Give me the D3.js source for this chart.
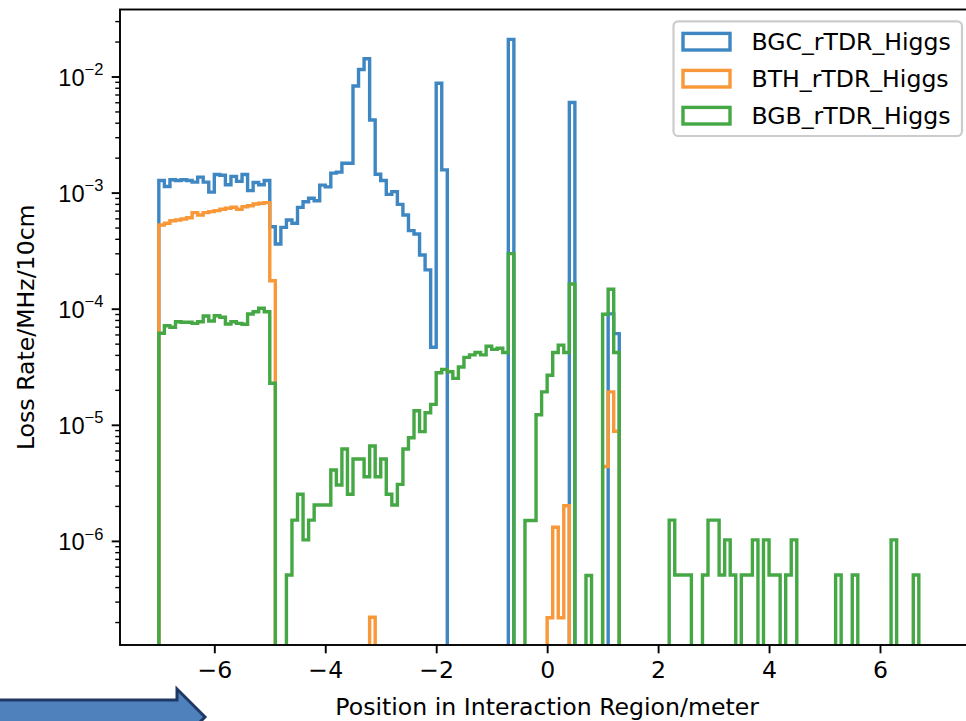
<!DOCTYPE html>
<html><head><meta charset="utf-8">
<script src="https://cdn.jsdelivr.net/npm/d3@7"></script>
<style>
html,body{margin:0;padding:0;background:#fff;overflow:hidden;}
svg{display:block;font-family:"DejaVu Sans",sans-serif;}
</style></head><body>
<svg id="chart" width="966" height="721"></svg>
<script>
// ---- data (10 cm bins from -7 m to 7 m) ----
const binStart = -7, binWidth = 0.1, binCount = 140;
const seriesNames = ["BGC_rTDR_Higgs", "BTH_rTDR_Higgs", "BGB_rTDR_Higgs"];
const xTickValues = [-6, -4, -2, 0, 2, 4, 6];
const yTickExponents = [-6, -5, -4, -3, -2];
const xLabel = "Position in Interaction Region/meter";
const yLabel = "Loss Rate/MHz/10cm";

const bgc = [
  1.27e-3,1.13e-3,1.29e-3,1.27e-3,1.29e-3,1.27e-3,1.23e-3,1.36e-3,1.23e-3,1.01e-3,
  1.43e-3,1.41e-3,1.17e-3,1.38e-3,1.25e-3,1.43e-3,1.04e-3,1.22e-3,1.17e-3,1.27e-3,
  5.08e-4,3.61e-4,5.02e-4,5.81e-4,5.44e-4,7.46e-4,8.35e-4,8.93e-4,8.51e-4,1.16e-3,
  1.12e-3,1.47e-3,1.50e-3,1.79e-3,1.79e-3,8.28e-3,1.15e-2,1.42e-2,4.22e-3,1.44e-3,
  1.27e-3,9.66e-4,1.02e-3,7.92e-4,6.41e-4,4.70e-4,4.40e-4,2.90e-4,2.16e-4,4.65e-5,
  8.74e-3,1.57e-3,0,0,0,0,0,0,0,0,
  0,0,0,2.09e-2,0,0,0,0,0,0,
  0,0,0,0,5.98e-3,0,0,0,0,0,
  0,9.02e-5,6.10e-5,0,0,0,0,0,0,0,
  0,0,0,0,0,0,0,0,0,0,
  0,0,0,0,0,0,0,0,0,0,
  0,0,0,0,0,0,0,0,0,0,
  0,0,0,0,0,0,0,0,0,0,
  0,0,0,0,0,0,0,0,0,0
];
const bth = [
  5.26e-4,5.44e-4,5.73e-4,5.81e-4,5.93e-4,6.08e-4,6.72e-4,6.41e-4,6.72e-4,6.86e-4,
  6.99e-4,7.18e-4,7.33e-4,7.47e-4,7.18e-4,7.56e-4,7.71e-4,7.97e-4,8.09e-4,8.19e-4,
  1.74e-4,0,0,0,0,0,0,0,0,0,
  0,0,0,0,0,0,0,0,2.2e-7,0,
  0,0,0,0,0,0,0,0,0,0,
  0,0,0,0,0,0,0,0,0,0,
  0,0,0,0,0,0,0,0,0,0,
  2.18e-7,1.31e-6,2.18e-7,2.01e-6,0,0,0,0,0,0,
  4.38e-6,1.92e-5,8.81e-6,0,0,0,0,0,0,0,
  0,0,0,0,0,0,0,0,0,0,
  0,0,0,0,0,0,0,0,0,0,
  0,0,0,0,0,0,0,0,0,0,
  0,0,0,0,0,0,0,0,0,0,
  0,0,0,0,0,0,0,0,0,0
];
const bgb = [
  6.14e-5,7.14e-5,6.92e-5,7.73e-5,7.64e-5,7.64e-5,7.48e-5,7.73e-5,8.65e-5,7.83e-5,
  8.70e-5,8.45e-5,7.38e-5,7.73e-5,7.48e-5,7.35e-5,9.0e-5,9.42e-5,1.01e-4,9.42e-5,
  2.28e-5,0,0,5.08e-7,1.51e-6,2.52e-6,1.02e-6,1.51e-6,2.04e-6,2.04e-6,
  2.04e-6,4.08e-6,3.03e-6,6.19e-6,2.52e-6,5.07e-6,5.07e-6,3.57e-6,6.56e-6,3.57e-6,
  5.07e-6,2.52e-6,2.04e-6,3.07e-6,6.19e-6,7.74e-6,1.32e-5,8.73e-6,1.27e-5,1.50e-5,
  2.81e-5,3.00e-5,2.86e-5,2.51e-5,3.15e-5,3.81e-5,4.00e-5,4.20e-5,4.00e-5,4.75e-5,
  4.46e-5,4.56e-5,4.20e-5,2.98e-4,0,0,1.50e-6,1.50e-6,1.22e-5,1.92e-5,
  2.67e-5,4.20e-5,4.86e-5,4.20e-5,1.63e-4,0,0,5.04e-7,0,0,
  8.95e-5,1.47e-4,4.20e-5,0,0,0,0,0,0,0,
  0,0,1.51e-6,5.08e-7,5.08e-7,5.08e-7,0,0,5.08e-7,1.51e-6,
  1.51e-6,5.08e-7,1.02e-6,5.08e-7,0,5.08e-7,5.08e-7,1.02e-6,0,1.02e-6,
  5.08e-7,5.08e-7,0,5.08e-7,1.02e-6,0,0,0,0,0,
  0,0,5.08e-7,0,0,5.08e-7,0,0,0,0,
  0,0,1.02e-6,0,0,0,5.08e-7,0,0,0
];
const seriesValues = [bgc, bth, bgb];
const seriesColors = ["#3f87c2", "#f89838", "#45a845"];

// ---- layout ----
const svg = d3.select("#chart");
const plot = {left: 120, right: 974.3, top: 9.5, bottom: 645};
const FS = 23.6;
const majorLen = 8.3, minorLen = 4.75, pad = 8.3;

const x = d3.scaleLinear().domain([-7.7, 7.7]).range([plot.left, plot.right]);
const y = d3.scaleLog().domain([1e-6, 1e-2]).range([540.9, 76.5]);

const edges = d3.range(binCount + 1).map(i => binStart + i * binWidth);

svg.append("defs").append("clipPath").attr("id", "clip")
  .append("rect").attr("x", plot.left).attr("y", plot.top)
  .attr("width", plot.right - plot.left).attr("height", plot.bottom - plot.top);

const yZero = plot.bottom + 60;
function stepPoints(vals) {
  const pts = [[x(edges[0]), yZero]];
  vals.forEach((v, i) => {
    const yy = v > 0 ? y(v) : yZero;
    pts.push([x(edges[i]), yy]);
    pts.push([x(edges[i + 1]), yy]);
  });
  pts.push([x(edges[binCount]), yZero]);
  return pts;
}
const lineGen = d3.line();
const gData = svg.append("g").attr("clip-path", "url(#clip)");
seriesValues.forEach((vals, k) => {
  gData.append("path").attr("d", lineGen(stepPoints(vals)))
    .attr("fill", "none").attr("stroke", seriesColors[k])
    .attr("stroke-width", 3.4).attr("stroke-linejoin", "miter");
});

// ---- axes ----
const minus = d => (d < 0 ? "\u2212" + Math.abs(d) : String(d));
const gx = svg.append("g").attr("transform", `translate(0,${plot.bottom})`)
  .call(d3.axisBottom(x).tickValues(xTickValues).tickSize(majorLen).tickPadding(pad).tickFormat(minus));
gx.select(".domain").remove();
gx.selectAll(".tick line").attr("stroke", "#000").attr("stroke-width", 1.9);
gx.selectAll(".tick text").attr("font-size", FS).attr("fill", "#000")
  .attr("font-family", "DejaVu Sans");

const majors = yTickExponents.map(e => Math.pow(10, e));
const minors = [];
for (let e = -7; e <= -2; e++) for (let m = 2; m <= 9; m++) {
  const v = m * Math.pow(10, e);
  const py = y(v);
  if (py >= plot.top && py <= plot.bottom) minors.push(v);
}
const gyMinor = svg.append("g").attr("transform", `translate(${plot.left},0)`)
  .call(d3.axisLeft(y).tickValues(minors).tickSize(minorLen).tickFormat(""));
gyMinor.select(".domain").remove();
gyMinor.selectAll(".tick line").attr("stroke", "#000").attr("stroke-width", 1.4);

const gy = svg.append("g").attr("transform", `translate(${plot.left},0)`)
  .call(d3.axisLeft(y).tickValues(majors).tickSize(majorLen).tickPadding(pad).tickFormat(""));
gy.select(".domain").remove();
gy.selectAll(".tick line").attr("stroke", "#000").attr("stroke-width", 1.9);
gy.selectAll(".tick text").each(function (d) {
  const t = d3.select(this).text(null).attr("font-size", FS).attr("fill", "#000")
    .attr("text-anchor", "end").attr("x", -(majorLen + pad)).attr("dy", null).attr("y", 8.6);
  t.append("tspan").text("10");
  t.append("tspan").attr("font-size", FS * 0.7).attr("dy", -10.5)
    .text(minus(Math.round(Math.log10(d))));
});

// spines
svg.append("rect").attr("x", plot.left).attr("y", plot.top)
  .attr("width", plot.right - plot.left).attr("height", plot.bottom - plot.top)
  .attr("fill", "none").attr("stroke", "#000").attr("stroke-width", 1.9);

// axis labels
svg.append("text").attr("x", (plot.left + plot.right) / 2).attr("y", 715)
  .attr("text-anchor", "middle").attr("font-size", FS).text(xLabel);
svg.append("text").attr("transform", `translate(34,${(plot.top + plot.bottom) / 2}) rotate(-90)`)
  .attr("text-anchor", "middle").attr("font-size", FS).text(yLabel);

// ---- legend ----
const lg = svg.append("g");
lg.append("rect").attr("x", 673.5).attr("y", 21.3).attr("width", 962 - 673.5).attr("height", 136 - 21.3)
  .attr("rx", 4.7).attr("fill", "#fff").attr("fill-opacity", 0.8)
  .attr("stroke", "#cccccc").attr("stroke-width", 2.2);
const rowY = [41.7, 78.7, 115.7];
seriesNames.forEach((name, k) => {
  lg.append("rect").attr("x", 683).attr("y", rowY[k] - 8.3).attr("width", 47).attr("height", 16.6)
    .attr("fill", "none").attr("stroke", seriesColors[k]).attr("stroke-width", 3.4);
  lg.append("text").attr("x", 751.5).attr("y", rowY[k] + 8.6).attr("font-size", FS).text(name);
});

// ---- decorative slide arrow (bottom-left) ----
svg.append("path")
  .attr("d", "M-10,700 L177,700 L177,689 L205,717 L177,745 L177,736 L-10,736 Z")
  .attr("fill", "#4f81bd").attr("stroke", "#1f3864").attr("stroke-width", 3)
  .attr("stroke-linejoin", "miter");
</script>
</body></html>
